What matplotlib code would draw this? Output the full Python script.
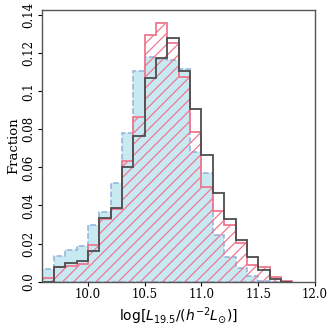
import numpy as np
import matplotlib
matplotlib.use("Agg")
import matplotlib.pyplot as plt

# bin edges (log L)
bin_edges = np.round(np.arange(9.6, 11.85, 0.1), 2)

# fractions per bin (22 bins: 9.6-9.7 ... 11.7-11.8)
frac_blue = [0.0065, 0.0135, 0.0166, 0.0187, 0.0298, 0.0367, 0.0520, 0.0782,
             0.1106, 0.1181, 0.1170, 0.1166, 0.1120, 0.0680, 0.0572, 0.0245,
             0.0128, 0.0070, 0.0028, 0.0005, 0.0, 0.0]
frac_red = [0.0018, 0.0076, 0.0082, 0.0093, 0.0193, 0.0328, 0.0380, 0.0634,
            0.0866, 0.1295, 0.1360, 0.1256, 0.1073, 0.0787, 0.0499, 0.0371,
            0.0298, 0.0202, 0.0088, 0.0079, 0.0026, 0.0005]
frac_black = [0.0, 0.0079, 0.0100, 0.0110, 0.0161, 0.0336, 0.0388, 0.0600,
              0.0766, 0.1068, 0.1173, 0.1278, 0.1108, 0.0905, 0.0665, 0.0464,
              0.0331, 0.0219, 0.0131, 0.0060, 0.0015, 0.0]

xticks = [10.0, 10.5, 11.0, 11.5, 12.0]
xticklabels = ["10.0", "10.5", "11.0", "11.5", "12.0"]
yticks = [0.0, 0.02, 0.04, 0.06, 0.08, 0.10, 0.12, 0.14]
yticklabels = ["0.0", "0.02", "0.04", "0.06", "0.08", "0.1", "0.12", "0.14"]

centers = (bin_edges[:-1] + bin_edges[1:]) / 2

plt.rcParams['hatch.linewidth'] = 0.9
fig = plt.figure(figsize=(3.32, 3.32), dpi=100)
ax = fig.add_axes([0.128, 0.152, 0.821, 0.818])

ax.hist(centers, bins=bin_edges, weights=frac_blue, histtype='stepfilled',
        facecolor='#c8e9f2', edgecolor='#8fb2dc', linestyle='--', linewidth=1.1,
        zorder=1)
ax.hist(centers, bins=bin_edges, weights=frac_red, histtype='step',
        edgecolor='#ef7890', hatch='///', linewidth=1.3, zorder=2)
ax.hist(centers, bins=bin_edges, weights=frac_black, histtype='step',
        color='#4d4d4d', linewidth=1.3, zorder=3)

ax.set_xlim(9.6, 12.0)
ax.set_ylim(0, 0.1428)
ax.set_xticks(xticks)
ax.set_xticklabels(xticklabels, family='DejaVu Serif', fontsize=8.5)
ax.set_yticks(yticks)
ax.set_yticklabels(yticklabels, family='DejaVu Serif', fontsize=8.5,
                   rotation=90, va='center')
ax.tick_params(axis='both', length=3, width=0.8, pad=2)
for s in ax.spines.values():
    s.set_color('#555555')
    s.set_linewidth(1.0)

ax.set_xlabel(r'log[$L_{19.5}/(h^{-2}L_{\odot})$]', fontsize=10, labelpad=3)
ax.set_ylabel('Fraction', family='DejaVu Serif', fontsize=9.5, labelpad=2)

fig.savefig('out.png', dpi=100)
